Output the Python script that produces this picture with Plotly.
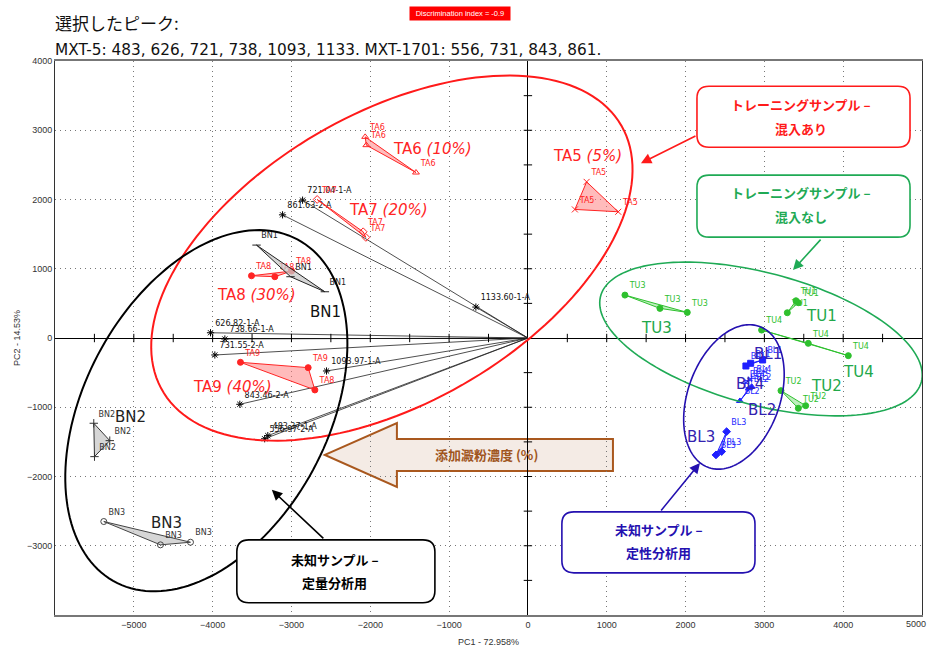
import numpy as np
import plotly.graph_objects as go

# ---------------- PCA scores (PC1, PC2) per sample group ----------------
TA5_X = [745, 596, 1146];      TA5_Y = [2255, 1857, 1823]
TA6_X = [-2065, -2050, -1420]; TA6_Y = [2905, 2785, 2390]
TA7_X = [-2674, -2090, -2056]; TA7_Y = [2001, 1534, 1453]
TA8_X = [-3507, -3211, -2999]; TA8_Y = [899, 885, 967]
TA9_X = [-3647, -2788, -2703]; TA9_Y = [-351, -428, -750]
BN1_X = [-3443, -3012, -2576]; BN1_Y = [1342, 885, 668]
BN2_X = [-5508, -5305, -5499]; BN2_Y = [-1231, -1482, -1713]
BN3_X = [-5381, -4662, -4281]; BN3_Y = [-2650, -2987, -2949]
TU1_X = [3431, 3401, 3291];    TU1_Y = [510, 538, 365]
TU2_X = [3211, 3431, 3524];    TU2_Y = [-760, -1015, -977]
TU3_X = [1231, 1675, 2022];    TU3_Y = [620, 428, 370]
TU4_X = [2965, 3557, 4065];    TU4_Y = [115, -77, -255]
BL1_X = [2766, 2826, 2978];    BL1_Y = [-404, -365, -317]
BL2_X = [2690, 2839, 2805];    BL2_Y = [-909, -702, -727]
BL3_X = [2521, 2458, 2386];    BL3_Y = [-1352, -1640, -1688]
BL4_X = [2796, 2754, 2839];    BL4_Y = [-616, -654, -582]

TA9_POINT_LABELS = ["TA9", "TA9", "TA8"]

# ---------------- loadings (selected peaks) ----------------
LOAD_NAMES = ["626.82-1-A", "738.66-1-A", "721.04-1-A", "1093.97-1-A", "1133.60-1-A",
              "483.37-1-A", "731.55-2-A", "843.46-2-A", "861.63-2-A", "556.97-2-A"]
LOAD_X = [-4027, -3845, -2859, -2555, -660, -3300, -3972, -3655, -3113, -3340]
LOAD_Y = [76, -14, 1991, -476, 447, -1410, -245, -957, 1779, -1455]

X_TICKS = [-5000, -4000, -3000, -2000, -1000, 0, 1000, 2000, 3000, 4000]
X_EDGE_TICK = 5000
Y_TICKS = [-3000, -2000, -1000, 0, 1000, 2000, 3000, 4000]

# ---------------- layout geometry ----------------
W, H = 930, 651
MARGIN = dict(l=55, r=8, t=61, b=36)
X_RANGE = [-6000, 5000]
Y_RANGE = [-4000, 4000.5]
SX = (W - MARGIN["l"] - MARGIN["r"]) / (X_RANGE[1] - X_RANGE[0])   # px per PC1 unit
SY = (H - MARGIN["t"] - MARGIN["b"]) / (Y_RANGE[1] - Y_RANGE[0])   # px per PC2 unit

LATIN = "DejaVu Sans, Noto Sans CJK JP, sans-serif"
CJK = "Noto Sans CJK JP, DejaVu Sans, sans-serif"
NARROW = "Liberation Sans Narrow, Liberation Sans, Arial, sans-serif"

RED = "#ff2424"
RED_FILL = "rgba(255,120,120,0.50)"
GREEN = "#2ec02e"
GREEN_TXT = "#22a84a"
GREEN_FILL = "rgba(110,220,110,0.45)"
BLUE = "#1f1fff"
BLUE_TXT = "#3322b0"
BLUE_FILL = "rgba(110,110,255,0.45)"
GRAY_FILL = "rgba(200,200,200,0.75)"

fig = go.Figure()

# loading vectors from the origin
lx, ly = [], []
for x, y in zip(LOAD_X, LOAD_Y):
    lx += [0, x, None]
    ly += [0, y, None]
fig.add_trace(go.Scatter(x=lx, y=ly, mode="lines",
                         line=dict(color="#222222", width=0.8), hoverinfo="skip"))
fig.add_trace(go.Scatter(x=LOAD_X, y=LOAD_Y, mode="markers+text", text=LOAD_NAMES,
                         textposition="top right",
                         textfont=dict(family=LATIN, size=8, color="#111111"),
                         marker=dict(symbol="asterisk-open", size=6, color="black",
                                     line=dict(color="black", width=1)),
                         hoverinfo="skip"))

# minor ticks on the zero lines
xt = [v for v in np.arange(-5500, 5000, 500) if v != 0]
yt = [v for v in np.arange(-3500, 4000, 500) if v != 0]
fig.add_trace(go.Scatter(x=xt, y=[0] * len(xt), mode="markers", hoverinfo="skip",
                         marker=dict(symbol="line-ns-open", size=6, color="black",
                                     line=dict(color="black", width=1))))
fig.add_trace(go.Scatter(x=[0] * len(yt), y=yt, mode="markers", hoverinfo="skip",
                         marker=dict(symbol="line-ew-open", size=6, color="black",
                                     line=dict(color="black", width=1))))

# sample groups: (name, xs, ys, point labels, symbol, marker colour, fill, label colour)
groups = [
    ("TA5", TA5_X, TA5_Y, None, "x-thin-open", RED, RED_FILL, RED),
    ("TA6", TA6_X, TA6_Y, None, "triangle-up-open", RED, RED_FILL, RED),
    ("TA7", TA7_X, TA7_Y, None, "diamond-open", RED, RED_FILL, RED),
    ("TA8", TA8_X, TA8_Y, None, "circle", RED, RED_FILL, RED),
    ("TA9", TA9_X, TA9_Y, TA9_POINT_LABELS, "circle", RED, RED_FILL, RED),
    ("BN1", BN1_X, BN1_Y, None, "line-ew-open", "#222222", GRAY_FILL, "#222222"),
    ("BN2", BN2_X, BN2_Y, None, "cross-thin-open", "#333333", GRAY_FILL, "#333333"),
    ("BN3", BN3_X, BN3_Y, None, "circle-open", "#444444", GRAY_FILL, "#333333"),
    ("TU1", TU1_X, TU1_Y, None, "circle", GREEN, GREEN_FILL, GREEN),
    ("TU2", TU2_X, TU2_Y, None, "circle", GREEN, GREEN_FILL, GREEN),
    ("TU3", TU3_X, TU3_Y, None, "circle", GREEN, GREEN_FILL, GREEN),
    ("TU4", TU4_X, TU4_Y, None, "circle", GREEN, GREEN_FILL, GREEN),
    ("BL1", BL1_X, BL1_Y, None, "square", BLUE, BLUE_FILL, BLUE),
    ("BL2", BL2_X, BL2_Y, None, "triangle-up", BLUE, BLUE_FILL, BLUE),
    ("BL3", BL3_X, BL3_Y, None, "diamond", BLUE, BLUE_FILL, BLUE),
    ("BL4", BL4_X, BL4_Y, None, "cross-thin-open", BLUE, BLUE_FILL, BLUE),
]

for name, xs, ys, labels, sym, col, fill, tcol in groups:
    fig.add_trace(go.Scatter(x=xs + [xs[0]], y=ys + [ys[0]], mode="lines", fill="toself",
                             fillcolor=fill, line=dict(color=col, width=1),
                             hoverinfo="skip"))
    fig.add_trace(go.Scatter(x=xs, y=ys, mode="markers+text",
                             text=labels if labels else [name] * len(xs),
                             textposition="top right",
                             textfont=dict(family=LATIN, size=8, color=tcol),
                             marker=dict(symbol=sym, size=6, color=col,
                                         line=dict(color=col, width=1)),
                             hoverinfo="skip"))

# ---------------- group captions ----------------
captions = [
    ("TA6 <i>(10%)</i>", -1206, 2735, RED),
    ("TA5 <i>(5%)</i>", 761, 2626, RED),
    ("TA7 <i>(20%)</i>", -1764, 1847, RED),
    ("TA8 <i>(30%)</i>", -3439, 620, RED),
    ("BN1", -2563, 375, "#111111"),
    ("TA9 <i>(40%)</i>", -3744, -707, RED),
    ("BN2", -5038, -1140, "#222222"),
    ("BN3", -4581, -2670, "#222222"),
    ("TU3", 1637, 144, GREEN_TXT),
    ("TU1", 3731, 317, GREEN_TXT),
    ("TU4", 4188, -491, GREEN_TXT),
    ("TU2", 3782, -693, GREEN_TXT),
    ("BL1", 3046, -231, BLUE_TXT),
    ("BL4", 2817, -664, BLUE_TXT),
    ("BL2", 2970, -1039, BLUE_TXT),
    ("BL3", 2195, -1429, BLUE_TXT),
]
annotations = []
for txt, x, y, c in captions:
    annotations.append(dict(text=txt, x=x, y=y, xref="x", yref="y", showarrow=False,
                            font=dict(family=LATIN, size=15, color=c)))


# ---------------- helper shapes ----------------
def ellipse_path(cx, cy, a_px, b_px, deg, n=160):
    t = np.linspace(0, 2 * np.pi, n)
    th = np.radians(deg)
    u, v = a_px * np.cos(t), b_px * np.sin(t)
    px = u * np.cos(th) - v * np.sin(th)
    py = u * np.sin(th) + v * np.cos(th)
    xs, ys = cx + px / SX, cy + py / SY
    return "M " + " L ".join(f"{x:.1f},{y:.1f}" for x, y in zip(xs, ys)) + " Z"


def rounded_box(x0, x1, y0, y1, r_px=12):
    rx, ry = r_px / SX, r_px / SY
    return (f"M {x0 + rx},{y1} L {x1 - rx},{y1} Q {x1},{y1} {x1},{y1 - ry} "
            f"L {x1},{y0 + ry} Q {x1},{y0} {x1 - rx},{y0} L {x0 + rx},{y0} "
            f"Q {x0},{y0} {x0},{y0 + ry} L {x0},{y1 - ry} Q {x0},{y1} {x0 + rx},{y1} Z")


shapes = [
    dict(type="path", path=ellipse_path(-1726, 1154, 265, 145, 30),
         line=dict(color="#ff1a1a", width=2), layer="above"),
    dict(type="path", path=ellipse_path(-4080, -1050, 194, 122, 62),
         line=dict(color="black", width=2), layer="above"),
    dict(type="path", path=ellipse_path(2957, -14, 166, 66, -15),
         line=dict(color="#1faa55", width=1.6), layer="above"),
    dict(type="path", path=ellipse_path(2614, -851, 75, 46, 70),
         line=dict(color="#2410b0", width=1.6), layer="above"),
]

# block arrow: starch concentration direction
tip_x, tip_y = -2576, -1688
head_x, tail_x = -1662, 1079
head_top, head_bot = -1227, -2150
shaft_top, shaft_bot = -1457, -1919
shapes.append(dict(
    type="path", layer="below",
    path=(f"M {tip_x},{tip_y} L {head_x},{head_top} L {head_x},{shaft_top} "
          f"L {tail_x},{shaft_top} L {tail_x},{shaft_bot} L {head_x},{shaft_bot} "
          f"L {head_x},{head_bot} Z"),
    fillcolor="#f4ebe5", line=dict(color="#a9581e", width=2)))
annotations.append(dict(text="<b>添加澱粉濃度 (%)</b>", x=-520, y=-1688, xref="x", yref="y",
                        showarrow=False, font=dict(family=CJK, size=13, color="#a0561e")))

# call-out boxes: (x0, x1, y0, y1, colour, line1, line2, text x, line1 y, line2 y, arrow head, arrow tail)
boxes = [
    (2145, 4848, 2756, 3636, "#ff1a1a", "トレーニングサンプル –", "混入あり", 3470, 3377, 3030,
     (1434, 2525), (2145, 2929)),
    (2145, 4848, 1457, 2352, "#1faa55", "トレーニングサンプル –", "混入なし", 3470, 2107, 1760,
     (3363, 981), (3731, 1443)),
    (431, 2881, -3391, -2511, "#2410b0", "未知サンプル –", "定性分析用", 1660, -2771, -3102,
     (2183, -1804), (1675, -2511)),
    (-3693, -1180, -3824, -2915, "black", "未知サンプル –", "定量分析用", -2450, -3203, -3535,
     (-3249, -2193), (-2576, -2915)),
]
for x0, x1, y0, y1, col, t1, t2, tx, ty1, ty2, head, tail in boxes:
    shapes.append(dict(type="path", path=rounded_box(x0, x1, y0, y1), fillcolor="white",
                       line=dict(color=col, width=1.6), layer="above"))
    for t, ty in ((t1, ty1), (t2, ty2)):
        annotations.append(dict(text=f"<b>{t}</b>", x=tx, y=ty, xref="x", yref="y",
                                showarrow=False, font=dict(family=CJK, size=13, color=col)))
    annotations.append(dict(text="", x=head[0], y=head[1], ax=tail[0], ay=tail[1],
                            xref="x", yref="y", axref="x", ayref="y", showarrow=True,
                            arrowhead=2, arrowsize=1.3, arrowwidth=1.6, arrowcolor=col))

# ---------------- titles and axis texts ----------------
annotations += [
    dict(text="選択したピーク:", xref="paper", yref="paper", x=0, y=1, xanchor="left",
         yanchor="middle", xshift=-2, yshift=61 - 22, showarrow=False,
         font=dict(family=CJK, size=17, color="#111111")),
    dict(text="MXT-5: 483, 626, 721, 738, 1093, 1133. MXT-1701: 556, 731, 843, 861.",
         xref="paper", yref="paper", x=0, y=1, xanchor="left", yanchor="middle",
         xshift=-2, yshift=61 - 50, showarrow=False,
         font=dict(family=LATIN, size=15.3, color="#111111")),
    dict(text="Discrimination index = -0.9", xref="paper", yref="paper",
         x=(460 - 55) / 867, y=1, yanchor="middle", yshift=61 - 13, showarrow=False,
         bgcolor="#ff0000", width=98, height=11, borderpad=1,
         font=dict(family=NARROW, size=7.5, color="white")),
    dict(text=str(X_EDGE_TICK), x=X_EDGE_TICK, xref="x", y=0, yref="paper",
         xanchor="right", xshift=6, yanchor="middle", yshift=-9, showarrow=False,
         font=dict(family=NARROW, size=9, color="#333333")),
    dict(text="PC1 - 72.958%", xref="paper", yref="paper", x=0.5, y=0, yanchor="middle",
         yshift=-27, showarrow=False, font=dict(family=NARROW, size=9, color="#333333")),
    dict(text="PC2 - 14.53%", xref="paper", yref="paper", x=0, y=0.5, xanchor="center",
         xshift=-38, textangle=-90, showarrow=False,
         font=dict(family=NARROW, size=9, color="#333333")),
]

fig.update_layout(
    width=W, height=H, margin=MARGIN, showlegend=False,
    paper_bgcolor="white", plot_bgcolor="white",
    shapes=shapes, annotations=annotations,
    xaxis=dict(range=X_RANGE, tickvals=X_TICKS, ticks="", showgrid=True,
               gridcolor="#777777", griddash="1px,4px", gridwidth=1,
               zeroline=True, zerolinecolor="black", zerolinewidth=1,
               showline=True, linecolor="#777777", linewidth=1.5, mirror=True,
               tickfont=dict(family=NARROW, size=9, color="#333333")),
    yaxis=dict(range=Y_RANGE, tickvals=Y_TICKS, ticks="", showgrid=True,
               gridcolor="#777777", griddash="1px,4px", gridwidth=1,
               zeroline=True, zerolinecolor="black", zerolinewidth=1,
               showline=True, linecolor="#333333", linewidth=1, mirror=True,
               tickfont=dict(family=NARROW, size=9, color="#333333")),
)

fig.write_html("out.html")
